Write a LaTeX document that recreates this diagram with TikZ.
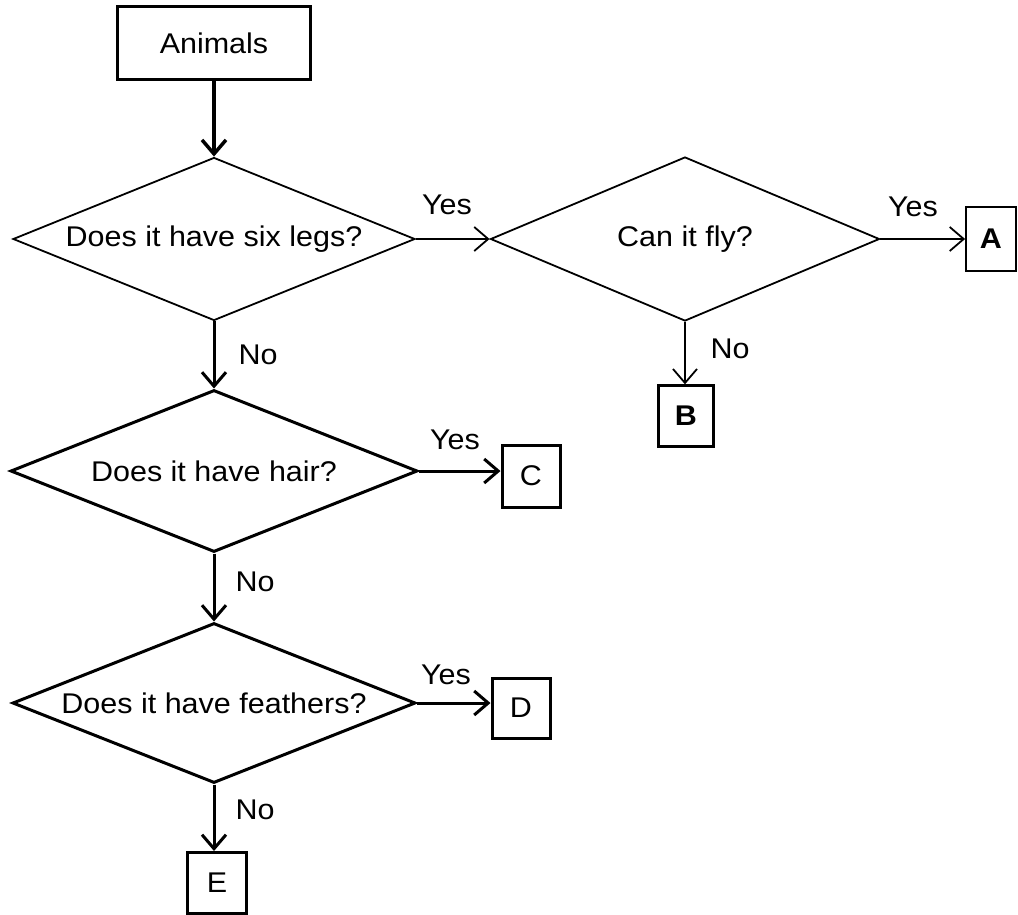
\documentclass[tikz,border=0pt]{standalone}
\usepackage{fontspec}
\setmainfont{Liberation Sans}[FakeStretch=1.07]
\usepackage{tikz}
\usetikzlibrary{shapes.geometric}
\usetikzlibrary{arrows.meta}

\begin{document}
\begin{tikzpicture}[
    x=1pt, y=-1pt,
    txt/.style={font=\fontsize{28.5}{32}\selectfont},
    question/.style={diamond, draw=black, aspect=2.5, inner sep=0pt, txt},
    leaf/.style={rectangle, draw=black, inner sep=0pt, txt},
    answer/.style={txt},
    thinline/.style={line width=1.8pt},
    thickline/.style={line width=3pt},
    link/.style={-{Straight Barb[length=14pt, width=24pt]}}
]
    \useasboundingbox (0,0) rectangle (1018,914);

    % --- Start ---
    \node[leaf, line width=3.5pt, minimum width=193, minimum height=73] (animals) at (214,43) {Animals};

    % --- Questions ---
    \node[question, thinline, minimum width=402, minimum height=163] (legs) at (214,239) {Does it have six legs?};
    \node[question, thinline, minimum width=389, minimum height=164] (fly) at (685,239) {Can it fly?};
    \node[question, thickline, minimum width=407, minimum height=162] (hair) at (214,471) {Does it have hair?};
    \node[question, thickline, minimum width=403, minimum height=160] (feathers) at (214,703) {Does it have feathers?};

    % --- Answers A to E ---
    \node[leaf, thinline, minimum width=50, minimum height=64] (A) at (991,239) {\bfseries A};
    \node[leaf, line width=2.3pt, minimum width=55, minimum height=61] (B) at (686,416) {\bfseries B};
    \node[leaf, thickline, minimum width=58, minimum height=62] (C) at (531,476) {C};
    \node[leaf, thickline, minimum width=58, minimum height=60] (D) at (521,708) {D};
    \node[leaf, thickline, minimum width=59, minimum height=61] (E) at (217,883) {E};

    % --- Labels ---
    \node[answer] (yes1) at (447,205) {Yes};
    \node[answer] (yes2) at (913,207) {Yes};
    \node[answer] (yes3) at (455,440) {Yes};
    \node[answer] (yes4) at (446,675) {Yes};
    \node[answer] (no1) at (258,355) {No};
    \node[answer] (no2) at (730,349) {No};
    \node[answer] (no3) at (255,582) {No};
    \node[answer] (no4) at (255,810) {No};

    % --- Connectors ---
    \draw[link, line width=3.5pt] (animals) -- (legs.north);
    \draw[link, thinline] (legs.east) -- (fly.west);
    \draw[link, thinline] (fly.east) -- (A.west);
    \draw[link, thinline] (fly.south) -- (fly.south |- B.north);
    \draw[link, thickline] (legs.south) -- (hair.north);
    \draw[link, thickline] (hair.east) -- (hair.east -| C.west);
    \draw[link, thickline] (hair.south) -- (feathers.north);
    \draw[link, thickline] (feathers.east) -- (feathers.east -| D.west);
    \draw[link, thickline] (feathers.south) -- (feathers.south |- E.north);

\end{tikzpicture}
\end{document}
